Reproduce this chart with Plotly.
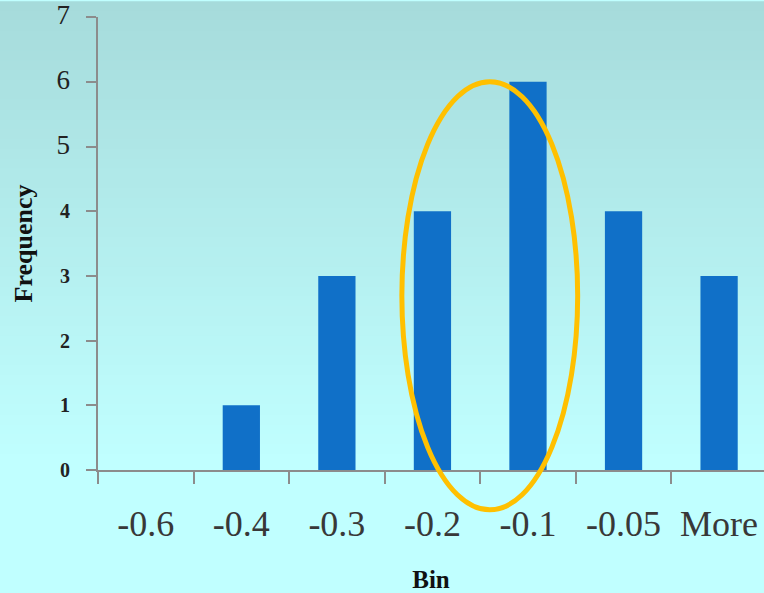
import plotly.graph_objects as go

categories = ["-0.6", "-0.4", "-0.3", "-0.2", "-0.1", "-0.05", "More"]
frequency = [0, 1, 3, 4, 6, 4, 3]
y_ticks = [0, 1, 2, 3, 4, 5, 6, 7]
y_tick_labels = ["<b>0</b>", "<b>1</b>", "<b>2</b>", "<b>3</b>", "<b>4</b>",
                 '<span style="font-size:27px">5</span>',
                 '<span style="font-size:27px">6</span>',
                 '<span style="font-size:27px">7</span>']

W, H = 764, 593
ML, MR, MT, MB = 98, 0, 15, 123
plot_h = H - MT - MB

fig = go.Figure()
fig.add_trace(go.Bar(
    x=categories, y=frequency, width=0.39,
    marker=dict(color="#1070C8", line=dict(width=0)),
    hoverinfo="skip",
))

# background vertical gradient (top teal -> bottom light cyan)
shapes = []
n = 60
top_c = (166, 219, 219)
bot_c = (192, 255, 255)
grad_end_px = 460  # pixel row where gradient reaches bottom colour
for i in range(n):
    py0 = i * H / n
    py1 = (i + 1) * H / n
    t = min(1.0, ((py0 + py1) / 2) / grad_end_px)
    c = tuple(round(top_c[k] + (bot_c[k] - top_c[k]) * t) for k in range(3))
    shapes.append(dict(
        type="rect", xref="paper", yref="paper", layer="below",
        x0=-ML / (W - ML - MR) - 0.01, x1=1.01,
        y0=1 - (py1 - MT) / plot_h - 0.002, y1=1 - (py0 - MT) / plot_h + 0.002,
        line=dict(width=0), fillcolor="rgb(%d,%d,%d)" % c,
    ))

# highlight ellipse
shapes.append(dict(
    type="circle", xref="x", yref="paper", layer="above",
    x0=2.68, x1=4.52,
    y0=(470 - 510) / plot_h, y1=(470 - 80) / plot_h,
    line=dict(color="#FFC000", width=5),
    fillcolor="rgba(0,0,0,0)",
))

fig.update_layout(
    width=W, height=H,
    margin=dict(l=ML, r=MR, t=MT, b=MB, pad=0),
    paper_bgcolor="#C0FFFF",
    plot_bgcolor="rgba(0,0,0,0)",
    showlegend=False,
    shapes=shapes,
    bargap=0.61,
    font=dict(family="Liberation Serif", color="#333333"),
)

fig.update_xaxes(
    type="category", range=[-0.5, 6.47],
    tickson="boundaries", ticks="outside", ticklen=12, tickwidth=2,
    tickcolor="#8C8C8C",
    showline=True, linecolor="#8C8C8C", linewidth=2,
    showgrid=False, zeroline=False,
    tickfont=dict(family="Liberation Serif", size=36, color="#383838"),
    ticklabelstandoff=21, ticklabeloverflow="allow",
    title=dict(text="<b>Bin</b>", font=dict(family="Liberation Serif", size=25, color="#111111"),
               standoff=27),
)

fig.update_yaxes(
    range=[0, 7.002], tickmode="array", tickvals=y_ticks, ticktext=y_tick_labels,
    ticks="outside", ticklen=10, tickwidth=2, tickcolor="#8C8C8C",
    showline=True, linecolor="#8C8C8C", linewidth=2,
    showgrid=False, zeroline=False,
    tickfont=dict(family="Liberation Serif", size=20, color="#222222"),
    ticklabelstandoff=12, ticklabeloverflow="allow",
    title=dict(text="<b>Frequency</b>", font=dict(family="Liberation Serif", size=26, color="#111111"),
               standoff=16),
)

fig.write_html("out.html", config={"displayModeBar": False, "staticPlot": True},
               post_script="document.body.style.margin='0';document.body.style.overflow='hidden';")
